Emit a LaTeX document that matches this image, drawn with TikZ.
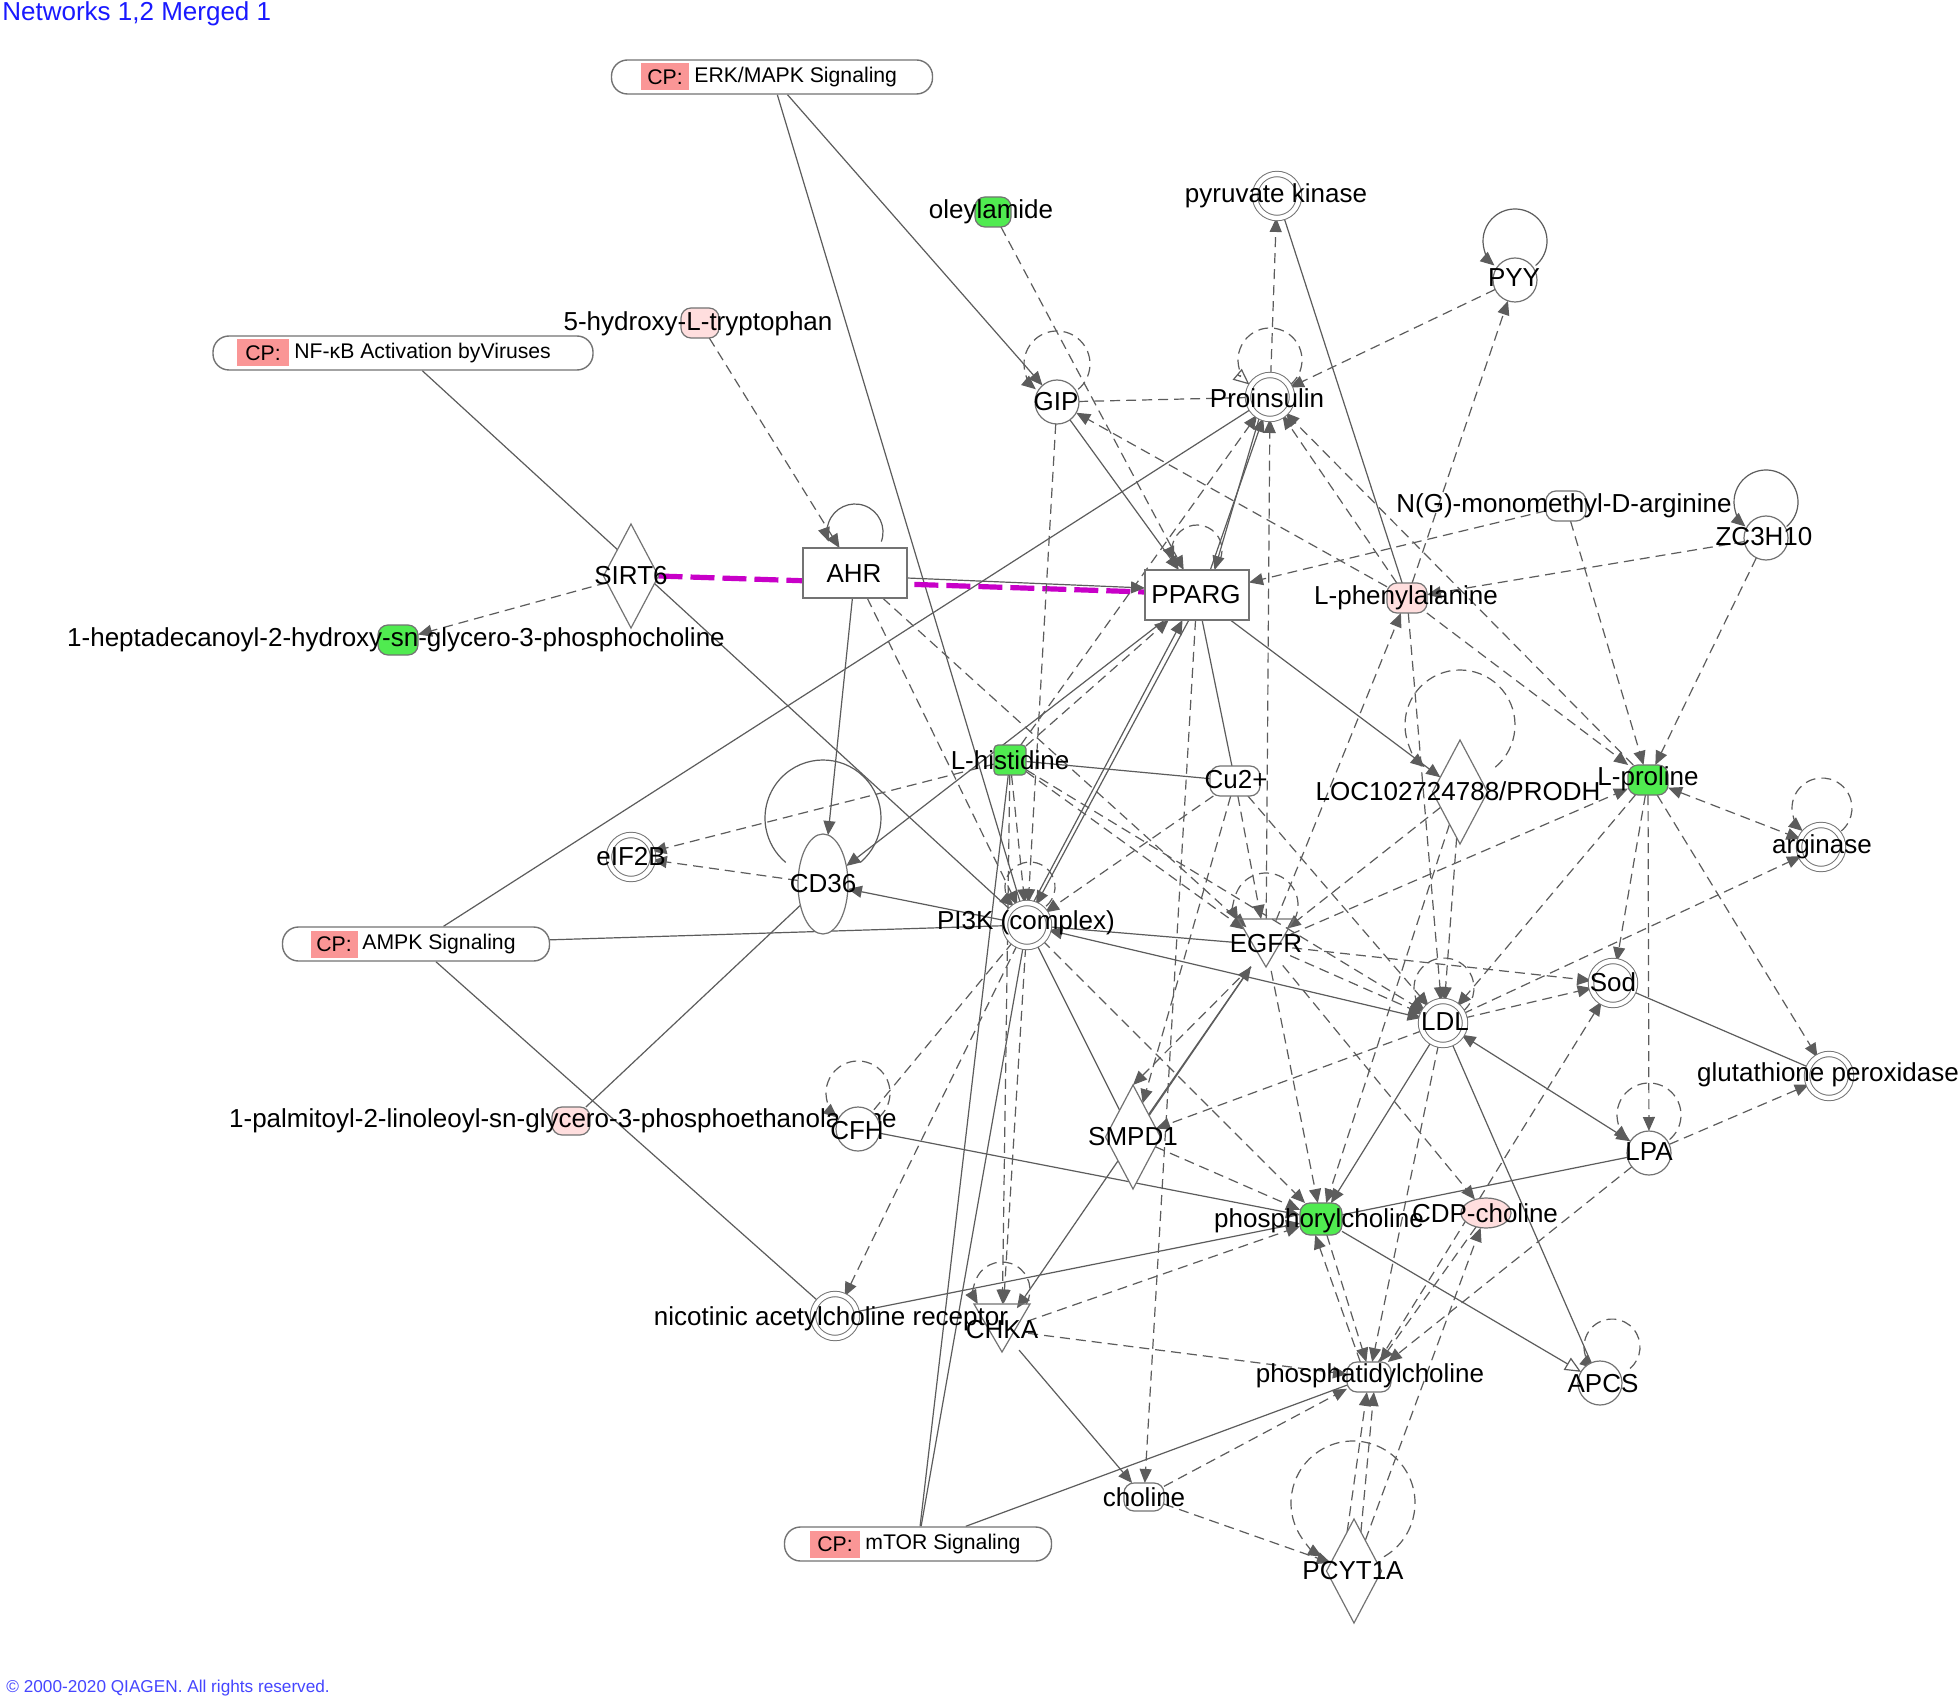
\documentclass[tikz,border=0pt]{standalone}
\usepackage{fontspec}
\setmainfont{Liberation Sans}
\usetikzlibrary{arrows.meta,shapes.geometric,shapes.misc}
\pgfdeclarelayer{bg}
\pgfsetlayers{bg,main}
\definecolor{ecol}{RGB}{92,92,92}
\definecolor{ncol}{RGB}{115,115,115}
\definecolor{chgreen}{RGB}{80,235,80}
\definecolor{chpink}{RGB}{255,222,222}
\definecolor{cpred}{RGB}{250,150,150}
\definecolor{magl}{RGB}{200,0,200}
\definecolor{ttlblue}{RGB}{25,25,255}
\definecolor{cpyblue}{RGB}{70,70,255}
\newcommand\labfont{\fontsize{13}{15}\selectfont}
\newcommand\cpfont{\fontsize{10.6}{12}\selectfont}
\newcommand\sloop[5]{\draw[#5] (#1,#2) ++(#4:#3) arc[start angle=#4, end angle={-180-#4}, radius=#3];}
\tikzset{
  ebase/.style={draw=ecol, line width=0.6pt},
  edir/.style={ebase, -{Triangle[length=7pt,width=6pt]}},
  eind/.style={edir, dash pattern=on 5pt off 3pt},
  eplain/.style={ebase},
  eindp/.style={ebase, dash pattern=on 5pt off 3pt},
  ebi/.style={ebase, {Triangle[length=7pt,width=6pt]}-{Triangle[length=7pt,width=6pt]}},
  ebind/.style={ebi, dash pattern=on 5pt off 3pt},
  eopen/.style={ebase, -{Triangle[open,length=8pt,width=7pt]}},
  eopend/.style={eopen, dash pattern=on 5pt off 3pt},
  nshape/.style={draw=ncol, line width=0.6pt, fill=white, inner sep=0pt, outer sep=0pt},
  circ/.style={nshape, circle, minimum size=22pt},
  dcirc/.style={circ, double=white, double distance=2.2pt, line width=0.5pt},
  chem/.style={nshape, rectangle, rounded corners=5pt, minimum width=20pt, minimum height=15pt},
  rbox/.style={nshape, rectangle, minimum width=52pt, minimum height=25pt},
  enz/.style={nshape, diamond, minimum width=27.5pt, minimum height=52pt},
  memb/.style={nshape, ellipse, minimum width=25pt, minimum height=50pt},
  kin/.style={circle, minimum size=26pt, inner sep=0pt},
  kinshape/.style={draw=ncol, line width=0.6pt},
  pill/.style={draw=ncol, line width=0.7pt, fill=white, rounded corners=8pt, minimum height=17pt, inner sep=0pt},
  cptag/.style={fill=cpred, minimum height=13.5pt, inner sep=0pt, font=\cpfont},
  cptxt/.style={anchor=west, inner sep=0pt, font=\cpfont},
  lab/.style={inner sep=0pt, font=\labfont, text=black},
  magline/.style={draw=magl, line width=2.6pt, dash pattern=on 12pt off 4pt},
}
\begin{document}
\begin{tikzpicture}[x=0.5pt,y=-0.5pt]
\useasboundingbox (0,0) rectangle (1960,1701);
% ---------- CP nodes
\node[pill, minimum width=160.5pt] (erk) at (772,77) {};
\node[cptag, minimum width=24pt] (erktag) at (665,77) {CP:};
\node[cptxt] (erktxt) at (694,77) {ERK/MAPK Signaling};
\node[pill, minimum width=190pt] (nfkb) at (403,353) {};
\node[cptag, minimum width=26pt] (nfkbtag) at (263,353) {CP:};
\node[cptxt] (nfkbtxt) at (294,353) {NF-κB Activation byViruses};
\node[pill, minimum width=133.5pt] (ampk) at (416,944) {};
\node[cptag, minimum width=23.5pt] (ampktag) at (334,944) {CP:};
\node[cptxt] (ampktxt) at (362,944) {AMPK Signaling};
\node[pill, minimum width=133.5pt] (mtor) at (918,1544) {};
\node[cptag, minimum width=25pt] (mtortag) at (835,1544) {CP:};
\node[cptxt] (mtortxt) at (865,1544) {mTOR Signaling};
% ---------- molecule shapes
\node[chem, fill=chgreen, minimum width=18pt] (oleyl) at (993,212) {};
\node[dcirc] (pyrk) at (1277,196) {};
\node[circ] (pyy) at (1515,280) {};
\node[chem, fill=chpink, minimum width=19pt] (htp) at (700,323) {};
\node[circ] (gip) at (1057,402) {};
\node[dcirc] (proins) at (1270,397) {};
\node[chem] (ngm) at (1566,506) {};
\node[circ] (zc3) at (1766,538) {};
\node[enz] (sirt6) at (631,576) {};
\node[rbox] (ahr) at (855,573) {};
\node[rbox] (pparg) at (1197,595) {};
\node[chem, fill=chpink] (lphe) at (1407,598) {};
\node[chem, fill=chgreen] (hepta) at (398,640) {};
\node[nshape, rectangle, rounded corners=2pt, fill=chgreen, minimum width=16pt, minimum height=15pt] (lhis) at (1010,760) {};
\node[chem, minimum width=25pt] (cu) at (1235,781) {};
\node[enz] (loc) at (1460,792) {};
\node[chem, fill=chgreen] (lpro) at (1648,780) {};
\node[dcirc] (eif) at (631,857) {};
\node[memb] (cd36) at (823,884) {};
\node[dcirc] (arg) at (1821,847) {};
\node[dcirc] (pi3k) at (1027,925) {};
\node[kin] (egfr) at (1266,945) {};
\node[dcirc] (sod) at (1613,983) {};
\node[dcirc] (ldl) at (1443,1023) {};
\node[dcirc] (gpx) at (1829,1076) {};
\node[chem, fill=chpink, minimum width=19pt, minimum height=14pt] (palm) at (571,1121) {};
\node[lab] (lpalm) at (563,1121) {1-palmitoyl-2-linoleoyl-sn-glycero-3-phosphoethanolamine};
\node[circ] (cfh) at (858,1129) {};
\node[enz] (smpd1) at (1133,1137) {};
\node[circ] (lpa) at (1649,1153) {};
\node[chem, fill=chgreen, minimum width=21pt, minimum height=16pt] (phc) at (1321,1219) {};
\node[nshape, ellipse, fill=chpink, minimum width=25pt, minimum height=15pt] (cdp) at (1486,1213) {};
\node[dcirc] (nachr) at (835,1316) {};
\node[kin] (chka) at (1002,1330) {};
\node[chem, minimum width=22pt] (ptc) at (1369,1377) {};
\node[circ] (apcs) at (1600,1383) {};
\node[chem, minimum height=14pt] (choline) at (1144,1497) {};
\node[enz] (pcyt) at (1354,1571) {};
% kinase outlines
\draw[kinshape] (1238,919) -- (1294,919) -- (1266,967) -- cycle;
\draw[kinshape] (974,1304) -- (1030,1304) -- (1002,1352) -- cycle;
% ---------- edges and self loops (behind nodes)
\begin{pgfonlayer}{bg}
\fill[white] (0,0) rectangle (1960,1701);
\draw[eplain] (erk) -- (pi3k);
\draw[edir] (erk) -- (gip);
\draw[eplain] (nfkb) -- (pi3k);
\draw[eplain] (ampk) -- (proins);
\draw[eplain] (ampk) -- (pi3k);
\draw[eplain] (ampk) -- (nachr);
\draw[eplain] (mtor) -- (pi3k);
\draw[eplain] (mtor) -- (lhis);
\draw[eplain] (mtor) -- (ptc);
\draw[eind] (sirt6) -- (hepta);
\draw[magline] (sirt6.east) -- ([yshift=1.5pt]pparg.west);
\draw[edir] ([yshift=-2.5pt]ahr.east) -- ([yshift=3.5pt]pparg.west);
\draw[eind] (htp) -- (ahr);
\draw[edir] (ahr) -- (cd36);
\draw[eind] (ahr) -- (pi3k);
\draw[eind] (ahr) -- (egfr);
\draw[eind] (oleyl) -- (pparg);
\draw[edir] (gip) -- (pparg);
\draw[eind] (gip) -- (pi3k);
\draw[eindp] (proins) -- (gip);
\draw[eind] (lphe) -- (gip);
\draw[eind] (proins) -- (pyrk);
\draw[eplain] (pyrk) -- (lphe);
\draw[eind] (pyy) -- (proins);
\draw[eind] (lphe) -- (pyy);
\draw[edir] (pparg.62) -- (proins.252);
\draw[edir] (proins.242) -- (pparg.55);
\draw[eind] (lphe) -- (proins);
\draw[eind] (lpro) -- (proins);
\draw[eind] (egfr) -- (proins);
\draw[eind] (lhis) -- (proins);
\draw[eind] (ngm) -- (pparg);
\draw[edir] (pparg) -- (loc);
\draw[edir] (pparg) -- (cd36);
\draw[edir] (pi3k.75) -- (pparg.240);
\draw[edir] (pparg.252) -- (pi3k.66);
\draw[eind] (lhis) -- (pparg);
\draw[eplain] (pparg) -- (cu);
\draw[eind] (pparg) -- (choline);
\draw[eind] (lphe) -- (lpro);
\draw[eind] (zc3) -- (lphe);
\draw[eind] (zc3) -- (lpro);
\draw[eind] (ngm) -- (lpro);
\draw[eind] (egfr) -- (lphe);
\draw[eind] (lphe) -- (ldl);
\draw[eplain] (lhis) -- (cu);
\draw[eind] (lhis) -- (eif);
\draw[eind] (cd36) -- (eif);
\draw[edir] (pi3k) -- (cd36);
\draw[eind] (lhis) -- (pi3k);
\draw[eind] (lhis) -- (ldl);
\draw[eind] (lhis) -- (egfr);
\draw[eind] (cu) -- (egfr);
\draw[eind] (cu) -- (ldl);
\draw[eind] (cu) -- (pi3k);
\draw[eind] (cu) -- (smpd1);
\draw[eplain] (pi3k) -- (egfr);
\draw[ebi] (pi3k) -- (ldl);
\draw[eplain] (pi3k) -- (smpd1);
\draw[edir] (smpd1) -- (egfr);
\draw[eind] (egfr.235) -- (smpd1.north);
\draw[eind] (ldl) -- (smpd1);
\draw[eind] (pi3k) -- (nachr);
\draw[eind] (pi3k) -- (chka);
\draw[eind] (lhis) -- (chka);
\draw[edir] (egfr) -- (chka);
\draw[edir] (chka) -- (choline);
\draw[eind] (chka) -- (phc);
\draw[eind] (chka) -- (ptc);
\draw[edir] (cfh) -- (phc);
\draw[edir] (nachr) -- (phc);
\draw[eind] (smpd1) -- (phc);
\draw[eind] (egfr) -- (phc);
\draw[edir] (ldl) -- (phc);
\draw[eind] (ptc.120) -- (phc.250);
\draw[eind] (phc.290) -- (ptc.100);
\draw[eplain] (lpa) -- (phc);
\draw[eopen] (phc) -- (apcs);
\draw[eplain] (ldl) -- (apcs);
\draw[ebi] (ldl) -- (lpa);
\draw[eind] (egfr) -- (cdp);
\draw[eind] (pcyt) -- (cdp);
\draw[eind] (cdp) -- (ptc);
\draw[eind] (lpa) -- (ptc);
\draw[eind] (ldl) -- (ptc);
\draw[eind] (choline) -- (ptc);
\draw[eind] (choline) -- (pcyt);
\draw[eind] (pcyt.100) -- (ptc.262);
\draw[eind] (pcyt.80) -- (ptc.288);
\draw[eind] (ptc) -- (sod);
\draw[eind] (ldl) -- (sod);
\draw[eind] (egfr) -- (sod);
\draw[eind] (lpro) -- (sod);
\draw[eplain] (sod) -- (gpx);
\draw[eind] (lpro) -- (gpx);
\draw[eind] (lpa) -- (gpx);
\draw[eind] (lpro) -- (lpa);
\draw[ebind] (lpro) -- (arg);
\draw[eind] (ldl) -- (arg);
\draw[eind] (lpro) -- (ldl);
\draw[eind] (egfr) -- (lpro);
\draw[eind] (loc) -- (egfr);
\draw[eind] (loc) -- (ldl);
\draw[eind] (egfr) -- (ldl);
\draw[eplain] (cd36) -- (palm);
\draw[eindp] (pi3k) -- (cfh);
\draw[eind] (loc) -- (phc);
\draw[eind] (pi3k) -- (phc);
% self loops
\sloop{1057}{364}{33}{50}{eind}
\sloop{1270}{360}{32}{50}{eopend}
\sloop{1515}{241}{32}{50}{edir}
\sloop{1766}{502}{32}{50}{edir}
\sloop{855}{532}{28}{20}{edir}
\sloop{1197}{550}{25}{25}{eind}
\sloop{823}{818}{58}{50}{eplain}
\sloop{1460}{725}{55}{50}{eind}
\sloop{1822}{808}{30}{50}{eind}
\sloop{1030}{887}{25}{50}{eind}
\sloop{1266}{905}{32}{30}{eind}
\sloop{1444}{988}{30}{50}{eind}
\sloop{858}{1093}{32}{50}{eind}
\sloop{1649}{1115}{32}{50}{eind}
\sloop{1612}{1347}{28}{50}{eind}
\sloop{1002}{1290}{28}{30}{eind}
\sloop{1353}{1503}{62}{60}{eind}
\end{pgfonlayer}
% ---------- labels
\node[lab] (loleyl) at (991,212) {oleylamide};
\node[lab] (lpyrk) at (1276,196) {pyruvate kinase};
\node[lab] (lpyy) at (1514,278) {PYY};
\node[lab] (lhtp) at (698,324) {5-hydroxy-L-tryptophan};
\node[lab] (lgip) at (1056,402) {GIP};
\node[lab] (lproins) at (1267,398) {Proinsulin};
\node[lab] (lngm) at (1564,506) {N(G)-monomethyl-D-arginine};
\node[lab] (lzc3) at (1764,537) {ZC3H10};
\node[lab] (lsirt6) at (631,576) {SIRT6};
\node[lab] (lahr) at (854,574) {AHR};
\node[lab] (lpparg) at (1196,595) {PPARG};
\node[lab] (llphe) at (1406,598) {L-phenylalanine};
\node[lab] (lhepta) at (396,640) {1-heptadecanoyl-2-hydroxy-sn-glycero-3-phosphocholine};
\node[lab] (llhis) at (1010,760) {L-histidine};
\node[lab] (lcu) at (1236,780) {Cu2+};
\node[lab] (lloc) at (1458,791) {LOC102724788/PRODH};
\node[lab] (llpro) at (1648,779) {L-proline};
\node[lab] (leif) at (631,857) {eIF2B};
\node[lab] (lcd36) at (823,884) {CD36};
\node[lab] (larg) at (1822,847) {arginase};
\node[lab] (lpi3k) at (1026,923) {PI3K (complex)};
\node[lab] (legfr) at (1266,944) {EGFR};
\node[lab] (lsod) at (1613,982) {Sod};
\node[lab] (lldl) at (1445,1022) {LDL};
\node[lab] (lgpx) at (1828,1075) {glutathione peroxidase};
\node[lab] (lcfh) at (857,1131) {CFH};
\node[lab] (lsmpd1) at (1133,1137) {SMPD1};
\node[lab] (llpa) at (1649,1152) {LPA};
\node[lab] (lphc) at (1319,1221) {phosphorylcholine};
\node[lab] (lcdp) at (1485,1213) {CDP-choline};
\node[lab] (lnachr) at (831,1319) {nicotinic acetylcholine receptor};
\node[lab] (lchka) at (1002,1330) {CHKA};
\node[lab] (lptc) at (1370,1376) {phosphatidylcholine};
\node[lab] (lapcs) at (1603,1384) {APCS};
\node[lab] (lcholine) at (1144,1497) {choline};
\node[lab] (lpcyt) at (1353,1571) {PCYT1A};
% ---------- title and footer
\node[anchor=north west, inner sep=0pt, text=ttlblue, font=\fontsize{13}{15}\selectfont] (ttl) at (2,1) {Networks 1,2 Merged 1};
\node[anchor=west, inner sep=0pt, text=cpyblue, font=\fontsize{8.6}{10}\selectfont] (cpy) at (6,1688) {© 2000-2020 QIAGEN. All rights reserved.};
\end{tikzpicture}
\end{document}
